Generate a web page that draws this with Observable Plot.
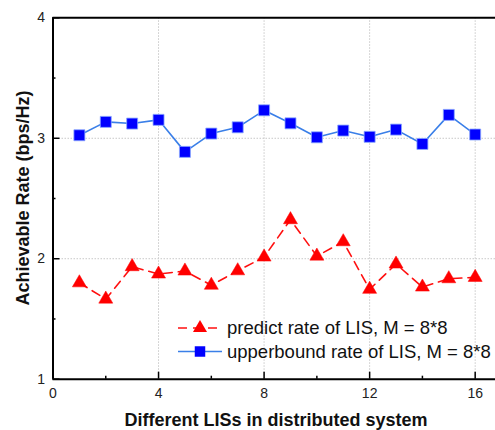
<!DOCTYPE html>
<html>
<head>
<meta charset="utf-8">
<script src="https://cdn.jsdelivr.net/npm/d3@7"></script>
<script src="https://cdn.jsdelivr.net/npm/@observablehq/plot@0.6"></script>
<style>
  html, body { margin: 0; padding: 0; background: #fff; }
  #wrap { position: relative; width: 495px; height: 430px; overflow: hidden; font-family: "Liberation Sans", Arial, sans-serif; }
  #legend { position: absolute; left: 0; top: 0; pointer-events: none; }
</style>
</head>
<body>
<div id="wrap"></div>
<script>
const lisIndex = [1, 2, 3, 4, 5, 6, 7, 8, 9, 10, 11, 12, 13, 14, 15, 16];
const predictRate = [1.80, 1.665, 1.934, 1.873, 1.898, 1.78, 1.90, 2.014, 2.324, 2.022, 2.141, 1.746, 1.956, 1.765, 1.834, 1.845];
const upperRate = [3.025, 3.136, 3.122, 3.153, 2.887, 3.039, 3.091, 3.232, 3.124, 3.008, 3.064, 3.012, 3.072, 2.953, 3.194, 3.031];
const seriesNames = ["predict rate of LIS, M = 8*8", "upperbound rate of LIS, M = 8*8"];
const xMajor = [0, 4, 8, 12, 16];
const xMinor = [2, 6, 10, 14];
const yMajor = [1, 2, 3, 4];
const yMinor = [1.5, 2.5, 3.5];
const xGrid = [4, 8, 12, 16];
const yGrid = [2, 3];

const predict = lisIndex.map((x, i) => ({x, y: predictRate[i]}));
const upper = lisIndex.map((x, i) => ({x, y: upperRate[i]}));

const font = "Liberation Sans, Arial, sans-serif";
const gridStyle = {stroke: "#c8c8c8", strokeOpacity: 1, strokeWidth: 1, strokeDasharray: "1.5,1.5"};

const chart = Plot.plot({
  width: 495,
  height: 430,
  marginLeft: 52.5,
  marginRight: 0,
  marginTop: 17.3,
  marginBottom: 51.3,
  style: {fontFamily: font, fontSize: "14px", background: "white", overflow: "visible"},
  x: {domain: [0, 16.77]},
  y: {domain: [1, 4]},
  marks: [
    Plot.gridX(xGrid, gridStyle),
    Plot.gridY(yGrid, gridStyle),
    Plot.axisX(xMajor, {tickSize: -7, tickPadding: 16, fontSize: 14, tickFormat: d3.format("d"), fill: "#222", label: null, strokeWidth: 1.5, stroke: "black"}),
    Plot.axisX(xMinor, {tickSize: -3, text: null, label: null, strokeWidth: 1.5, stroke: "black"}),
    Plot.axisY(yMajor, {tickSize: -7, tickPadding: 15, fontSize: 14, tickFormat: d3.format("d"), fill: "#222", label: null, strokeWidth: 1.5, stroke: "black"}),
    Plot.axisY(yMinor, {tickSize: -3, text: null, label: null, strokeWidth: 1.5, stroke: "black"}),
    Plot.ruleY([1, 4], {stroke: "black", strokeWidth: 2}),
    Plot.ruleX([0], {stroke: "black", strokeWidth: 2}),
    Plot.line(upper, {x: "x", y: "y", stroke: "#3a7fe8", strokeWidth: 1.6}),
    Plot.dot(upper, {x: "x", y: "y", symbol: "square", r: 6.2, fill: "#0000ff", stroke: "#8aa8ff", strokeWidth: 0.8}),
    Plot.line(predict, {x: "x", y: "y", stroke: "#ff1010", strokeWidth: 1.6, strokeDasharray: "9,6"}),
    Plot.dot(predict, {x: "x", y: "y", symbol: "triangle", r: 5.2, fill: "#ff0000", stroke: "#ff0000", strokeWidth: 0.5})
  ]
});

const wrap = document.getElementById("wrap");
wrap.appendChild(chart);

const svg = d3.select(wrap).append("svg")
  .attr("id", "legend")
  .attr("width", 495).attr("height", 430);

svg.append("text")
  .attr("x", 276).attr("y", 425.5)
  .attr("text-anchor", "middle")
  .attr("font-family", font).attr("font-weight", "bold").attr("font-size", 18)
  .attr("fill", "#111")
  .text("Different LISs in distributed system");

svg.append("text")
  .attr("transform", "translate(29,198) rotate(-90)")
  .attr("text-anchor", "middle")
  .attr("font-family", font).attr("font-weight", "bold").attr("font-size", 18)
  .attr("fill", "#111")
  .text("Achievable Rate (bps/Hz)");

const leg = svg.append("g");
const rows = [
  {name: seriesNames[0], y: 328, stroke: "#ff1010", dash: "9,6", fill: "#ff0000", sym: d3.symbolTriangle, size: 85},
  {name: seriesNames[1], y: 351.5, stroke: "#3a7fe8", dash: null, fill: "#0000ff", sym: d3.symbolSquare, size: 110}
];
rows.forEach(r => {
  leg.append("line")
    .attr("x1", 178).attr("x2", 222).attr("y1", r.y).attr("y2", r.y)
    .attr("stroke", r.stroke).attr("stroke-width", 1.6)
    .attr("stroke-dasharray", r.dash);
  leg.append("path")
    .attr("transform", `translate(200,${r.y})`)
    .attr("d", d3.symbol(r.sym, r.size)())
    .attr("fill", r.fill);
  leg.append("text")
    .attr("x", 227).attr("y", r.y)
    .attr("dy", "0.35em")
    .attr("font-family", font).attr("font-size", 18.5)
    .attr("fill", "#111")
    .text(r.name);
});
</script>
</body>
</html>
